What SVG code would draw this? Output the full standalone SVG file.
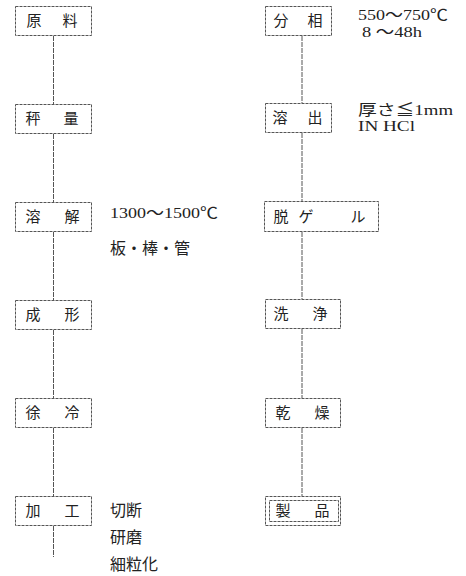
<svg xmlns="http://www.w3.org/2000/svg" width="466" height="576" viewBox="0 0 466 576">
<style>
.box{fill:none;stroke:#555;stroke-width:1;stroke-dasharray:3 1}
.lbl{font-family:"Liberation Serif","Noto Sans CJK JP",serif;font-size:15px;fill:#222;text-anchor:middle;dominant-baseline:central}
.note{font-family:"Liberation Serif","Noto Sans CJK JP",serif;font-size:15px;fill:#222}
.cjk{font-size:16px}
.conn line{stroke:#555;stroke-width:1;stroke-dasharray:5 1}
</style>
<rect width="466" height="576" fill="#fff"/>
<g class="conn">
<line x1="53.5" y1="36" x2="53.5" y2="104"/>
<line x1="53.5" y1="134" x2="53.5" y2="202"/>
<line x1="53.5" y1="232" x2="53.5" y2="300"/>
<line x1="53.5" y1="330" x2="53.5" y2="398"/>
<line x1="53.5" y1="428" x2="53.5" y2="496"/>
<line x1="53.5" y1="526" x2="53.5" y2="557"/>
<line x1="302" y1="36" x2="302" y2="103"/>
<line x1="302" y1="133" x2="302" y2="201"/>
<line x1="302" y1="232" x2="302" y2="299"/>
<line x1="302" y1="329" x2="302" y2="398"/>
<line x1="302" y1="428" x2="302" y2="496"/>
</g>
<g id="n-genryo"><rect class="box" x="15.5" y="6.5" width="76" height="29"/><text class="lbl" x="34 70" y="21">原料</text></g>
<g id="n-hyoryo"><rect class="box" x="15.5" y="104.5" width="76" height="29"/><text class="lbl" x="33 71" y="119">秤量</text></g>
<g id="n-yokai"><rect class="box" x="15.5" y="202.5" width="76" height="29"/><text class="lbl" x="33 72" y="217">溶解</text></g>
<g id="n-seikei"><rect class="box" x="15.5" y="300.5" width="76" height="29"/><text class="lbl" x="33 72" y="315">成形</text></g>
<g id="n-jorei"><rect class="box" x="15.5" y="398.5" width="76" height="29"/><text class="lbl" x="33 72" y="413">徐冷</text></g>
<g id="n-kako"><rect class="box" x="15.5" y="496.5" width="76" height="29"/><text class="lbl" x="33 72" y="511">加工</text></g>
<g id="n-bunso"><rect class="box" x="265.5" y="6.5" width="66" height="29"/><text class="lbl" x="281 315" y="21">分相</text></g>
<g id="n-yoshutsu"><rect class="box" x="265.5" y="103.5" width="66" height="29"/><text class="lbl" x="280 315" y="118">溶出</text></g>
<g id="n-datsugel"><rect class="box" x="264.5" y="201.5" width="114" height="30"/><text class="lbl" x="281 306 358" y="216.5">脱ゲル</text></g>
<g id="n-senjo"><rect class="box" x="265.5" y="299.5" width="75" height="29"/><text class="lbl" x="281 320" y="314">洗浄</text></g>
<g id="n-kanso"><rect class="box" x="265.5" y="398.5" width="75" height="29"/><text class="lbl" x="283 322" y="413">乾燥</text></g>
<g id="n-seihin"><rect class="box" x="265.5" y="496.5" width="75" height="29"/><rect class="box" x="269.5" y="500.5" width="69" height="21"/><text class="lbl" x="283 322" y="511">製品</text></g>
<g id="notes">
<text class="note" x="358" y="20" textLength="90" lengthAdjust="spacingAndGlyphs">550～750℃</text>
<text class="note" x="362" y="37" textLength="60" lengthAdjust="spacingAndGlyphs">8 ～48h</text>
<text class="note" x="358" y="115" textLength="95" lengthAdjust="spacingAndGlyphs">厚さ≦1mm</text>
<text class="note" x="358" y="131" textLength="57" lengthAdjust="spacingAndGlyphs">IN HCl</text>
<text class="note" x="110" y="218" textLength="108" lengthAdjust="spacingAndGlyphs">1300～1500℃</text>
<text class="note cjk" x="110" y="254">板・棒・管</text>
<text class="note cjk" x="110" y="516">切断</text>
<text class="note cjk" x="110" y="543">研磨</text>
<text class="note cjk" x="110" y="570">細粒化</text>
</g>
</svg>
